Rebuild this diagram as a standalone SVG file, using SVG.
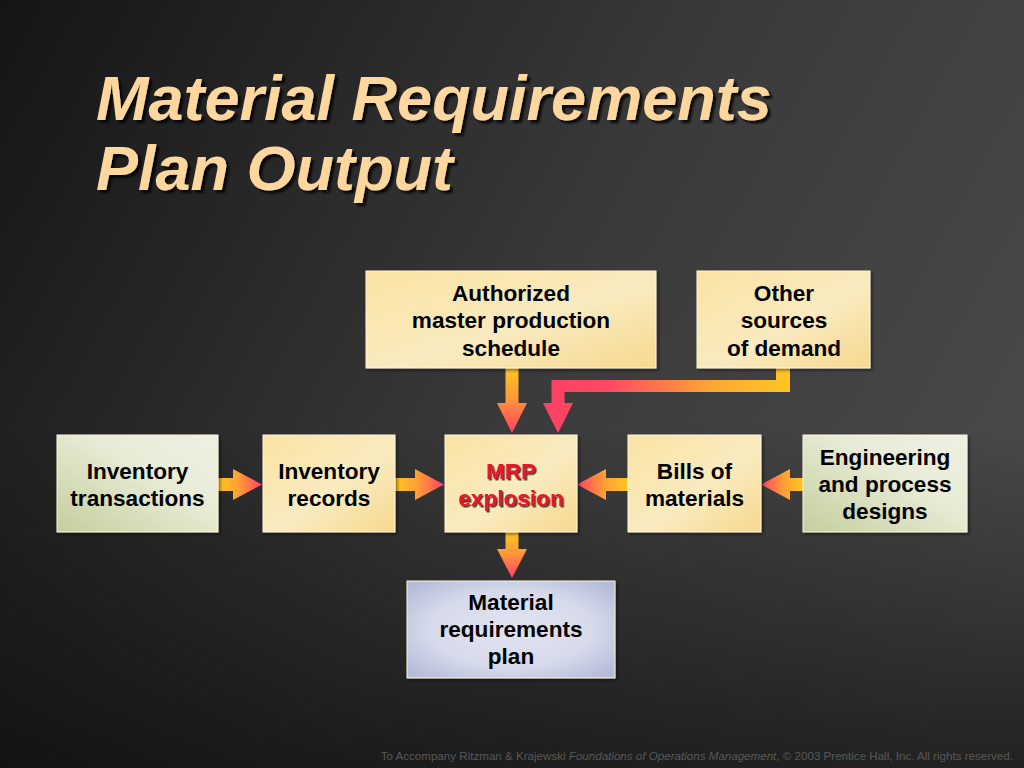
<svg xmlns="http://www.w3.org/2000/svg" width="1024" height="768" viewBox="0 0 1024 768">
<defs>
<linearGradient id="bg" x1="0" y1="0" x2="1024" y2="560" gradientUnits="userSpaceOnUse">
<stop offset="0" stop-color="#151515"/>
<stop offset="0.55" stop-color="#3a3a3a"/>
<stop offset="1" stop-color="#4b4b4b"/>
</linearGradient>
<linearGradient id="bgb" x1="0" y1="0" x2="0" y2="1">
<stop offset="0.55" stop-color="#000" stop-opacity="0"/>
<stop offset="1" stop-color="#000" stop-opacity="0.55"/>
</linearGradient>
<linearGradient id="yel" x1="0" y1="0" x2="1" y2="1">
<stop offset="0" stop-color="#FAE2A2"/>
<stop offset="0.55" stop-color="#F9EBC0"/>
<stop offset="1" stop-color="#F7D88E"/>
</linearGradient>
<linearGradient id="grn" x1="0" y1="1" x2="1" y2="0">
<stop offset="0" stop-color="#C4CE9E"/>
<stop offset="0.6" stop-color="#E8ECD6"/>
<stop offset="1" stop-color="#EEF0E2"/>
</linearGradient>
<radialGradient id="blu" cx="0.5" cy="0.5" r="0.65">
<stop offset="0" stop-color="#E2E4F0"/>
<stop offset="0.6" stop-color="#D6DAEB"/>
<stop offset="1" stop-color="#B4BCD8"/>
</radialGradient>
<linearGradient id="aR" x1="0" y1="0" x2="1" y2="0">
<stop offset="0" stop-color="#FFC623"/>
<stop offset="0.45" stop-color="#FFA034"/>
<stop offset="1" stop-color="#FF4066"/>
</linearGradient>
<linearGradient id="aL" x1="1" y1="0" x2="0" y2="0">
<stop offset="0" stop-color="#FFC623"/>
<stop offset="0.45" stop-color="#FFA034"/>
<stop offset="1" stop-color="#FF4066"/>
</linearGradient>
<linearGradient id="aD" x1="0" y1="0" x2="0" y2="1">
<stop offset="0" stop-color="#FFC623"/>
<stop offset="0.45" stop-color="#FF9A38"/>
<stop offset="1" stop-color="#FF4066"/>
</linearGradient>
<linearGradient id="aLshape" x1="790" y1="0" x2="540" y2="0" gradientUnits="userSpaceOnUse">
<stop offset="0" stop-color="#FFC623"/>
<stop offset="0.3" stop-color="#FFA833"/>
<stop offset="0.72" stop-color="#FF4A60"/>
<stop offset="1" stop-color="#FF4066"/>
</linearGradient>
<filter id="sh" x="-10%" y="-10%" width="120%" height="130%">
<feDropShadow dx="2" dy="2" stdDeviation="1.5" flood-color="#000" flood-opacity="0.45"/>
</filter>
<filter id="tsh" x="-5%" y="-10%" width="110%" height="130%">
<feDropShadow dx="3" dy="3" stdDeviation="1.2" flood-color="#000" flood-opacity="0.8"/>
</filter>
<filter id="rsh" x="-5%" y="-10%" width="110%" height="130%">
<feDropShadow dx="1.5" dy="1.5" stdDeviation="0.6" flood-color="#2a1a10" flood-opacity="0.85"/>
</filter>
</defs>
<style>
.box{stroke:#FFF6DC;stroke-width:1;filter:url(#sh)}
.t{font-family:"Liberation Sans",Arial,sans-serif;font-weight:bold;font-size:22.6px;fill:#000;text-anchor:middle}
.red{fill:#E8142A;filter:url(#rsh)}
.title{font-family:"Liberation Sans",Arial,sans-serif;font-weight:bold;font-style:italic;font-size:63px;fill:#FDD79E;filter:url(#tsh)}
.foot{font-family:"Liberation Sans",Arial,sans-serif;font-size:11.6px;fill:#585858;text-anchor:end}
</style>
<rect width="1024" height="768" fill="url(#bg)"/>
<rect width="1024" height="768" fill="url(#bgb)"/>

<g id="title">
<text class="title" x="96" y="120">Material Requirements</text>
<text class="title" x="96" y="190">Plan Output</text>
</g>

<g id="connectors">
<path d="M505.5,368 V403 H497 L512,433 L527,403 H518.5 V368 Z" fill="url(#aD)"/>
<path d="M790,368 V392 H564.5 V403 H573 L558,433 L543,403 H551.5 V380 H776 V368 Z" fill="url(#aLshape)"/>
<path d="M218,478 H233 V469 L262,484.5 L233,500 V491 H218 Z" fill="url(#aR)"/>
<path d="M395,478 H415 V469 L444,484.5 L415,500 V491 H395 Z" fill="url(#aR)"/>
<path d="M628,478 H606 V469 L577,484.5 L606,500 V491 H628 Z" fill="url(#aL)"/>
<path d="M803,478 H790 V469 L761,484.5 L790,500 V491 H803 Z" fill="url(#aL)"/>
<path d="M505.5,532 V549 H497 L512,578 L527,549 H518.5 V532 Z" fill="url(#aD)"/>
</g>

<g id="node-mps">
<rect class="box" x="366" y="271" width="290" height="97" fill="url(#yel)"/>
<text class="t" x="511" y="301">Authorized</text>
<text class="t" x="511" y="328">master production</text>
<text class="t" x="511" y="356">schedule</text>
</g>
<g id="node-other">
<rect class="box" x="697" y="271" width="173" height="97" fill="url(#yel)"/>
<text class="t" x="784" y="301">Other</text>
<text class="t" x="784" y="328">sources</text>
<text class="t" x="784" y="356">of demand</text>
</g>
<g id="node-invtrans">
<rect class="box" x="57" y="435" width="161" height="97" fill="url(#grn)"/>
<text class="t" x="137.5" y="479">Inventory</text>
<text class="t" x="137.5" y="506">transactions</text>
</g>
<g id="node-invrec">
<rect class="box" x="263" y="435" width="132" height="97" fill="url(#yel)"/>
<text class="t" x="329" y="479">Inventory</text>
<text class="t" x="329" y="506">records</text>
</g>
<g id="node-mrp">
<rect class="box" x="445" y="435" width="132" height="97" fill="url(#yel)"/>
<text class="t red" x="511" y="479">MRP</text>
<text class="t red" x="511" y="506">explosion</text>
</g>
<g id="node-bom">
<rect class="box" x="628" y="435" width="133" height="97" fill="url(#yel)"/>
<text class="t" x="694.5" y="479">Bills of</text>
<text class="t" x="694.5" y="506">materials</text>
</g>
<g id="node-eng">
<rect class="box" x="803" y="435" width="164" height="97" fill="url(#grn)"/>
<text class="t" x="885" y="465">Engineering</text>
<text class="t" x="885" y="492">and process</text>
<text class="t" x="885" y="519">designs</text>
</g>
<g id="node-plan">
<rect class="box" x="407" y="581" width="208" height="97" fill="url(#blu)"/>
<text class="t" x="511" y="610">Material</text>
<text class="t" x="511" y="637">requirements</text>
<text class="t" x="511" y="664">plan</text>
</g>

<text class="foot" x="1013" y="760">To Accompany Ritzman &amp; Krajewski <tspan font-style="italic">Foundations of Operations Management</tspan>, © 2003 Prentice Hall, Inc. All rights reserved.</text>
</svg>
